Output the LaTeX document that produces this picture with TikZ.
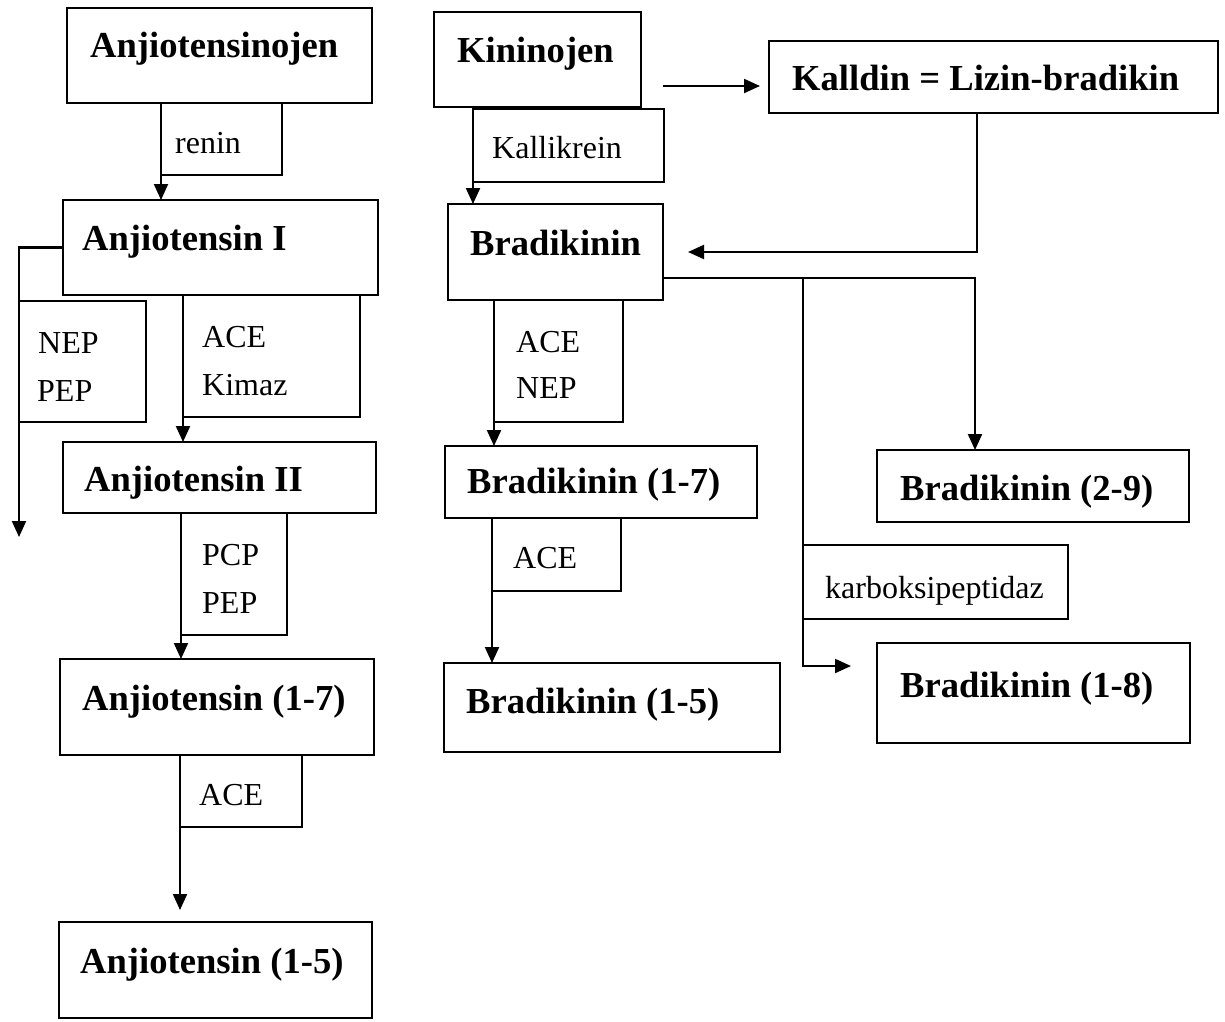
\documentclass[tikz,border=0pt]{standalone}
\usepackage{fontspec}
\setmainfont{Liberation Serif}
\usetikzlibrary{arrows.meta}
\tikzset{
  box/.style={draw, line width=2.1pt, rectangle, inner sep=0pt, outer sep=0pt, anchor=north west},
  main/.style={inner sep=0pt, anchor=base west, font=\fontsize{36.6}{40}\selectfont\bfseries},
  enz/.style={inner sep=0pt, anchor=base west, font=\fontsize{32}{36}\selectfont},
  arr/.style={line width=2.1pt, -{Triangle[length=16pt,width=14pt]}},
}
\newcommand\mybox[5]{\node[box, minimum width={#4-#2}, minimum height={#5-#3}] (#1) at (#2,#3) {};}
\begin{document}
\begin{tikzpicture}[x=1pt, y=-1pt]
\fill[white] (0,0) rectangle (1225,1021);
\useasboundingbox (0,0) rectangle (1225,1021);

% ---- angiotensin column ----
\mybox{anjo}{67}{8}{372}{103}
\node[main] (anjo-t) at (90,57) {Anjiotensinojen};
\mybox{renin}{161}{103}{282}{175}
\node[enz] (renin-t) at (175,153) {renin};
\mybox{anj1}{63}{200}{378}{295}
\node[main] (anj1-t) at (82,250) {Anjiotensin I};
\mybox{nep}{19}{301}{146}{422}
\node[enz] (nep-t1) at (38,353) {NEP};
\node[enz] (nep-t2) at (37,401) {PEP};
\mybox{acek}{183}{295}{360}{417}
\node[enz] (acek-t1) at (202,347) {ACE};
\node[enz] (acek-t2) at (202,395) {Kimaz};
\mybox{anj2}{63}{442}{376}{513}
\node[main] (anj2-t) at (84,491) {Anjiotensin II};
\mybox{pcp}{181}{513}{287}{635}
\node[enz] (pcp-t1) at (202,565) {PCP};
\node[enz] (pcp-t2) at (202,613) {PEP};
\mybox{anj17}{60}{659}{374}{755}
\node[main] (anj17-t) at (82,710) {Anjiotensin (1-7)};
\mybox{acea}{180}{755}{302}{827}
\node[enz] (acea-t) at (199,805) {ACE};
\mybox{anj15}{59}{922}{372}{1018}
\node[main] (anj15-t) at (80,973) {Anjiotensin (1-5)};

% ---- kinin column ----
\mybox{kin}{434}{12}{641}{107}
\node[main] (kin-t) at (457,62) {Kininojen};
\mybox{kal}{473}{109}{664}{182}
\node[enz] (kal-t) at (492,158) {Kallikrein};
\mybox{kalldin}{769}{41}{1218}{113}
\node[main] (kalldin-t) at (792,90) {Kalldin = Lizin-bradikin};
\mybox{brad}{448}{204}{663}{300}
\node[main] (brad-t) at (470,255) {Bradikinin};
\mybox{acenep}{494}{300}{623}{422}
\node[enz] (acenep-t1) at (516,352) {ACE};
\node[enz] (acenep-t2) at (516,398) {NEP};
\mybox{b17}{445}{446}{757}{518}
\node[main] (b17-t) at (467,493) {Bradikinin (1-7)};
\mybox{aceb}{492}{518}{621}{591}
\node[enz] (aceb-t) at (513,568) {ACE};
\mybox{b15}{444}{663}{780}{752}
\node[main] (b15-t) at (466,713) {Bradikinin (1-5)};
\mybox{b29}{877}{450}{1189}{522}
\node[main] (b29-t) at (900,500) {Bradikinin (2-9)};
\mybox{karb}{803}{545}{1068}{619}
\node[enz] (karb-t) at (825,598) {karboksipeptidaz};
\mybox{b18}{877}{643}{1190}{743}
\node[main] (b18-t) at (900,697) {Bradikinin (1-8)};

% ---- connectors ----
\coordinate (nepend) at (19,537);
\draw[arr] (renin.north west) -- (renin.north west |- anj1.north);
\draw[arr] (anj1.west) -| (nepend);
\draw[arr] (acek.north west) -- (acek.north west |- anj2.north);
\draw[arr] (pcp.north west) -- (pcp.north west |- anj17.north);
\draw[arr, shorten >=12pt] (acea.north west) -- (acea.north west |- anj15.north);

\draw[arr] (kal.north west |- kin.south) -- (kal.north west |- brad.north);
\coordinate (k1) at ([yshift=-26.5pt]kin.east);
\draw[arr, shorten <=22pt, shorten >=9pt] (k1) -- (k1 -| kalldin.west);
\draw[arr, shorten >=25pt] ([xshift=-16.5pt]kalldin.south) |- (brad.east);
\coordinate (bsplit) at ([yshift=-26pt]brad.east);
\draw[arr] (bsplit) -| ([xshift=-58pt]b29.north);
\draw[arr, shorten >=26pt] (bsplit -| karb.west) |- ([yshift=27pt]b18.west);
\draw[arr] (acenep.north west) -- (acenep.north west |- b17.north);
\draw[arr] (aceb.north west) -- (aceb.north west |- b15.north);
\end{tikzpicture}
\end{document}
